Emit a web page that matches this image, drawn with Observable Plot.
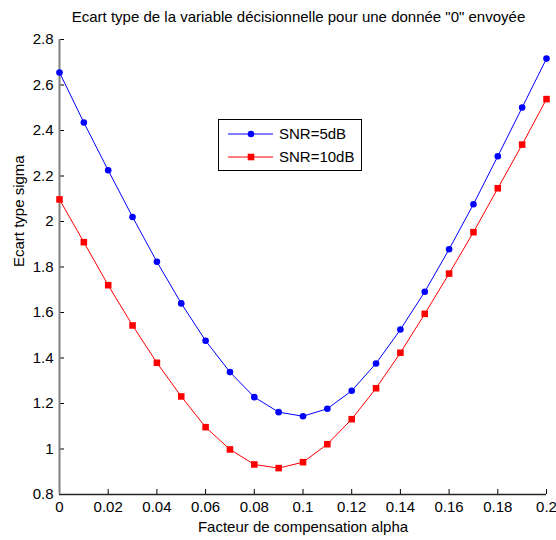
<!DOCTYPE html>
<html><head><meta charset="utf-8">
<script src="https://cdn.jsdelivr.net/npm/d3@7"></script>
<script src="https://cdn.jsdelivr.net/npm/@observablehq/plot@0.6"></script>
<style>
body{margin:0;background:#fff;font-family:"Liberation Sans",Arial,sans-serif;}
#wrap{position:relative;width:556px;height:540px;overflow:hidden;}
#title{position:absolute;left:0;width:597px;top:8px;text-align:center;font-size:15px;color:#000;white-space:nowrap;line-height:18px;}
#chart{position:absolute;left:0;top:0;}
#legend{position:absolute;left:218px;top:119px;width:142px;height:50px;border:1px solid #000;background:#fff;}
</style></head><body>
<div id="wrap">
<div id="chart"></div>
<div id="title"></div>
<div id="legend"></div>
</div>
<script>
const titleText = "Ecart type de la variable décisionnelle pour une donnée \"0\" envoyée";
const xLabel = "Facteur de compensation alpha";
const yLabel = "Ecart type sigma";
const alpha = [0,0.01,0.02,0.03,0.04,0.05,0.06,0.07,0.08,0.09,0.1,0.11,0.12,0.13,0.14,0.15,0.16,0.17,0.18,0.19,0.2];
const sigma5 = [2.655,2.435,2.225,2.02,1.823,1.64,1.476,1.338,1.228,1.162,1.144,1.177,1.256,1.376,1.525,1.691,1.878,2.076,2.287,2.501,2.716];
const sigma10 = [2.097,1.909,1.72,1.543,1.379,1.231,1.096,0.998,0.932,0.916,0.942,1.021,1.131,1.267,1.423,1.594,1.771,1.953,2.146,2.338,2.538];
const seriesNames = ["SNR=5dB","SNR=10dB"];
const seriesColors = ["#0000ff","#ff0000"];
const seriesSymbols = ["circle","square"];
const xTicks = [0,0.02,0.04,0.06,0.08,0.1,0.12,0.14,0.16,0.18,0.2];
const yTicks = [0.8,1,1.2,1.4,1.6,1.8,2,2.2,2.4,2.6,2.8];

const fmt = d => String(Math.round(d*1000)/1000);
const s5 = alpha.map((a,i)=>({a, s: sigma5[i]}));
const s10 = alpha.map((a,i)=>({a, s: sigma10[i]}));

document.getElementById("title").textContent = titleText;

const chart = Plot.plot({
  width: 556, height: 540,
  marginLeft: 59, marginRight: 10, marginTop: 39, marginBottom: 46,
  style: {fontFamily: "'Liberation Sans', Arial, sans-serif", fontSize: "15px", color: "#000", background: "#fff"},
  x: {domain: [0, 0.2], label: null},
  y: {domain: [0.8, 2.8], label: null},
  marks: [
    Plot.axisX(xTicks, {tickSize: -5, tickPadding: 12, tickFormat: fmt, fontSize: 15, label: null, stroke: "#000"}),
    Plot.axisY(yTicks, {tickSize: -5, tickPadding: 11, tickFormat: fmt, fontSize: 15, label: null, stroke: "#000"}),
    Plot.ruleY([0.8], {stroke: "#262626", strokeWidth: 1.5}),
    Plot.ruleX([0], {stroke: "#808080", strokeWidth: 2}),
    Plot.line(s5, {x: "a", y: "s", stroke: seriesColors[0], strokeWidth: 1}),
    Plot.dot(s5, {x: "a", y: "s", fill: seriesColors[0], r: 3.3, symbol: seriesSymbols[0]}),
    Plot.line(s10, {x: "a", y: "s", stroke: seriesColors[1], strokeWidth: 1}),
    Plot.dot(s10, {x: "a", y: "s", fill: seriesColors[1], r: 3.7, symbol: seriesSymbols[1]}),
    Plot.text([xLabel], {frameAnchor: "bottom", dy: 37, fontSize: 15}),
    Plot.text([yLabel], {frameAnchor: "left", dx: -40, rotate: -90, fontSize: 15})
  ]
});
document.getElementById("chart").appendChild(chart);

// legend
const lg = d3.select("#legend").append("svg").attr("width", 142).attr("height", 50)
  .style("font-family", "'Liberation Sans', Arial, sans-serif");
seriesNames.forEach((name, i) => {
  const y = 14 + i * 23;
  const g = lg.append("g");
  g.append("line").attr("x1", 9).attr("x2", 54).attr("y1", y).attr("y2", y)
    .attr("stroke", seriesColors[i]).attr("stroke-width", 1);
  if (seriesSymbols[i] === "circle") {
    g.append("circle").attr("cx", 32).attr("cy", y).attr("r", 3.3).attr("fill", seriesColors[i]);
  } else {
    g.append("rect").attr("x", 28.7).attr("y", y - 3.3).attr("width", 6.6).attr("height", 6.6).attr("fill", seriesColors[i]);
  }
  g.append("text").attr("x", 60).attr("y", y).attr("dy", "0.35em").attr("font-size", 15).text(name);
});
</script>
</body></html>
